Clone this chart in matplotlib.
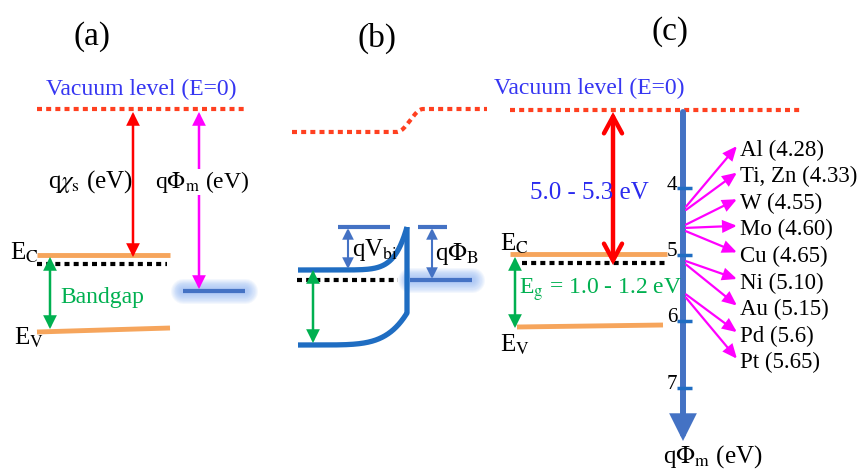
import numpy as np
import matplotlib
matplotlib.use('Agg')
import matplotlib.pyplot as plt
from matplotlib.patches import FancyArrowPatch

plt.rcParams['font.family'] = ['Liberation Serif', 'DejaVu Serif']
plt.rcParams['mathtext.fontset'] = 'stix'

# ---------------- data ----------------
panel_labels = ['(a)', '(b)', '(c)']
metals = ['Al', 'Ti, Zn', 'W', 'Mo', 'Cu', 'Ni', 'Au', 'Pd', 'Pt']
work_functions = [4.28, 4.33, 4.55, 4.60, 4.65, 5.10, 5.15, 5.6, 5.65]
wf_labels = ['4.28', '4.33', '4.55', '4.60', '4.65', '5.10', '5.15', '5.6', '5.65']
axis_ticks = [4, 5, 6, 7]
affinity_text = '5.0 - 5.3 eV'
bandgap_text = r'E$_\mathrm{g}$ = 1.0 - 1.2 eV'

# ---------------- styles ----------------
RED = '#FF4020'
VAC_BLUE = '#3636F2'
ORANGE = '#F6A55C'
GREEN = '#00B050'
MAGENTA = '#FF00FF'
AX_BLUE = '#4472C4'
BAND_BLUE = '#1F6DC2'
GLOW = '#8FB3F5'

fig = plt.figure(figsize=(8.64, 4.70), dpi=100)
ax = fig.add_axes([0, 0, 1, 1])
ax.set_xlim(0, 864)
ax.set_ylim(470, 0)
ax.axis('off')


def arrow(p0, p1, style, color, lw, ms=10, z=3):
    a = FancyArrowPatch(p0, p1, arrowstyle=style, color=color, lw=lw,
                        mutation_scale=ms, shrinkA=0, shrinkB=0, zorder=z,
                        joinstyle='miter')
    ax.add_patch(a)


def dotted(x, y, color, lw=3.0):
    ax.plot(x, y, color=color, lw=lw, linestyle=(0, (1.2, 1.0)),
            solid_capstyle='butt', dash_capstyle='butt', zorder=2)


def glow_line(x0, x1, y):
    for w in np.linspace(18, 4, 10):
        ax.plot([x0, x1], [y, y], color=GLOW, lw=w, alpha=0.10,
                solid_capstyle='round', zorder=1)
    ax.plot([x0, x1], [y, y], color=AX_BLUE, lw=3, solid_capstyle='butt', zorder=2)


# panel titles
for lab, (px, py) in zip(panel_labels, [(92, 37), (377, 38), (670, 32)]):
    ax.text(px, py, lab, fontsize=24, ha='center', va='center')

# ================= panel (a) =================
dotted([37, 247], [109, 109], RED)
ax.text(141, 89, 'Vacuum level (E=0)', color=VAC_BLUE, fontsize=17,
        ha='center', va='center')
ax.plot([37, 170], [255, 255], color=ORANGE, lw=3.5, solid_capstyle='butt')
ax.plot([37, 170], [332, 328], color=ORANGE, lw=3.5, solid_capstyle='butt')
dotted([37, 167], [264, 264], 'black')
arrow((133, 112), (133, 257), '<|-|>,head_length=0.7,head_width=0.35', 'red', 1.8)
arrow((199, 112), (199, 289), '<|-|>,head_length=0.7,head_width=0.35', MAGENTA, 1.8)
arrow((50, 257), (50, 329), '<|-|>,head_length=0.7,head_width=0.35', GREEN, 1.8)
glow_line(183, 245, 291)
ax.text(48, 182, r'q$\chi_\mathrm{s}$ (eV)', fontsize=18, ha='left', va='center')
ax.text(155, 182, r'q$\Phi_\mathrm{m}$ (eV)', fontsize=17, ha='left', va='center',
        bbox=dict(facecolor='white', edgecolor='none', pad=0), zorder=4)
ax.text(60, 297, 'Bandgap', color=GREEN, fontsize=17, ha='left', va='center')
ax.text(10, 253, r'E$_\mathrm{C}$', fontsize=18, ha='left', va='center')
ax.text(14, 338, r'E$_\mathrm{V}$', fontsize=18, ha='left', va='center')

# ================= panel (b) =================
xb = np.linspace(292, 487, 300)
t = np.clip((xb - 397) / 26.0, 0, 1)
yb = 132 - 23 * (3 * t ** 2 - 2 * t ** 3)
dotted(xb, yb, RED)

xc = np.linspace(298, 407, 300)
fr = (xc - 298) / 109.0
ycb = 270 - 43 * fr ** 9
yvb = 345 - 32 * fr ** 5.5
ax.plot(xc, ycb, color=BAND_BLUE, lw=3.8, solid_capstyle='butt', zorder=3)
ax.plot(np.append(xc, 407), np.append(yvb, 227), color=BAND_BLUE, lw=3.8,
        solid_capstyle='butt', zorder=3)
dotted([297, 398], [280, 280], 'black')
glow_line(410, 472, 280)
ax.plot([338, 390], [227, 227], color=AX_BLUE, lw=3, solid_capstyle='butt')
ax.plot([418, 447], [227, 227], color=AX_BLUE, lw=3, solid_capstyle='butt')
arrow((348, 228), (348, 269), '<|-|>,head_length=0.6,head_width=0.3', AX_BLUE, 1.5)
arrow((432, 228), (432, 279), '<|-|>,head_length=0.6,head_width=0.3', AX_BLUE, 1.5)
arrow((313, 270), (313, 343), '<|-|>,head_length=0.7,head_width=0.35', GREEN, 1.8)
ax.text(352, 250, r'qV$_\mathrm{bi}$', fontsize=18, ha='left', va='center')
ax.text(435, 254, r'q$\Phi_\mathrm{B}$', fontsize=18, ha='left', va='center')

# ================= panel (c) =================
def ey(v):
    return 188 + (v - 4) * 66.5

dotted([510, 802], [110, 110], RED)
ax.text(589, 88, 'Vacuum level (E=0)', color=VAC_BLUE, fontsize=17,
        ha='center', va='center')
ax.plot([510, 667], [254, 254], color=ORANGE, lw=3.5, solid_capstyle='butt')
ax.plot([517, 663], [327, 325], color=ORANGE, lw=3.5, solid_capstyle='butt')
dotted([522, 667], [263, 263], 'black')
arrow((613, 112), (613, 265), '<->,head_length=1.2,head_width=0.65', 'red', 3.2)
arrow((515, 257), (515, 328), '<|-|>,head_length=0.7,head_width=0.35', GREEN, 1.8)
ax.text(589, 193, affinity_text, color='#2B2BEF', fontsize=18, ha='center', va='center')
ax.text(519, 290, bandgap_text, color=GREEN, fontsize=17, ha='left', va='center')
ax.text(500, 244, r'E$_\mathrm{C}$', fontsize=18, ha='left', va='center')
ax.text(500, 345, r'E$_\mathrm{V}$', fontsize=18, ha='left', va='center')

# work-function axis
arrow((683, 112), (683, 441), '-|>,head_length=1.3,head_width=0.65', AX_BLUE, 4.3, z=2)
for tv in axis_ticks:
    ax.plot([677, 692], [ey(tv), ey(tv)], color=BAND_BLUE, lw=2.5,
            solid_capstyle='butt', zorder=4)
    ax.text(677, ey(tv) - 3, str(tv), fontsize=15, ha='right', va='center')
ax.text(663, 457, r'q$\Phi_\mathrm{m}$ (eV)', fontsize=18, ha='left', va='center')

for i, (m, wf, wl) in enumerate(zip(metals, work_functions, wf_labels)):
    ly = 150 + 26.6 * i
    arrow((686, ey(wf)), (737, ly - 4), '-|>,head_length=0.8,head_width=0.35',
          MAGENTA, 1.6)
    ax.text(740, ly, f'{m} ({wl})', fontsize=16.5, ha='left', va='center')

fig.savefig('out.png', dpi=100)
